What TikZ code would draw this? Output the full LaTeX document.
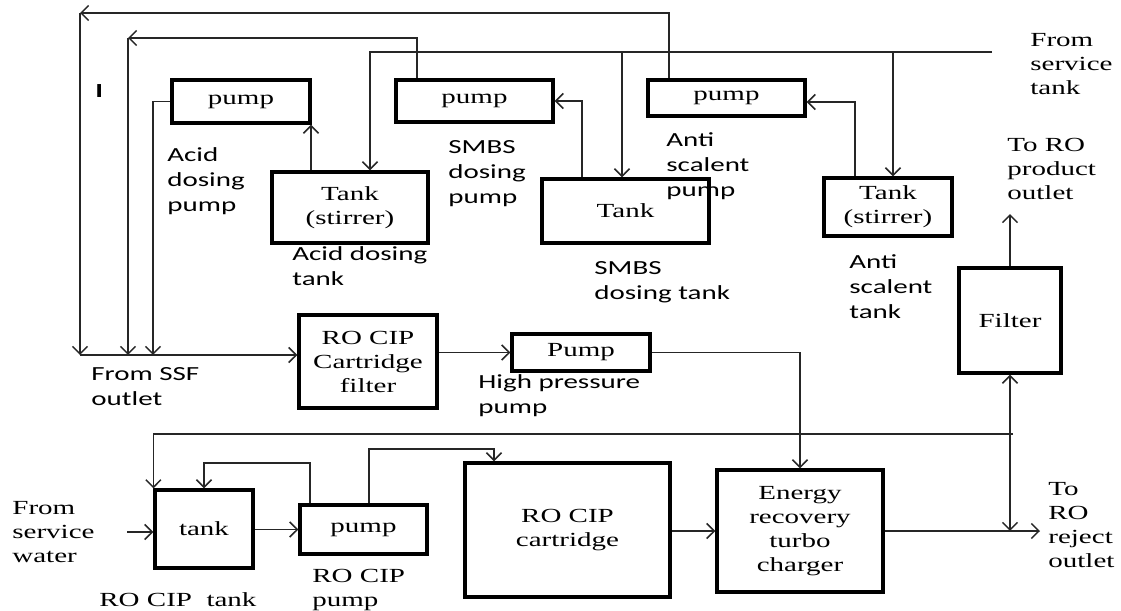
\documentclass[tikz,border=0pt]{standalone}
\usepackage{fontspec}
\setmainfont[FakeStretch=1.45]{Liberation Serif}
\newfontfamily\calfont[FakeStretch=1.45]{Carlito}
\usetikzlibrary{arrows.meta}

\begin{document}
\begin{tikzpicture}[
    x=0.5pt, y=-0.5pt,
    font=\fontsize{10}{12}\selectfont,
    every node/.style={align=center},
    %% plant unit: tank, pump, filter
    unit/.style={draw, line width=1.6pt, inner sep=1pt},
    %% plain pipe
    pipe/.style={line width=0.75pt, draw=black!85},
    %% pipe with open head
    flow/.style={pipe, -{Straight Barb[length=3.8pt, width=7.5pt]}},
    %% pipe with a head at both ends
    both/.style={pipe, {Straight Barb[length=3.8pt, width=7.5pt]}-{Straight Barb[length=3.8pt, width=7.5pt]}},
    %% sans caption under / beside a unit
    lbl/.style={font=\calfont\fontsize{10}{12.5}\selectfont, align=left, anchor=north west, inner sep=0pt},
    %% serif caption
    tag/.style={font=\fontsize{10}{12}\selectfont, align=left, anchor=north west, inner sep=0pt}
]
\useasboundingbox (0,0) rectangle (1121,611);

%%-------------------------------------------------------------- dosing units
\node[unit, minimum width=69pt,   minimum height=21.5pt] (acidpump)   at (241,101.5)   {pump};
\node[unit, minimum width=78.5pt, minimum height=21pt]   (smbspump)   at (474.5,101)   {pump};
\node[unit, minimum width=78.5pt, minimum height=18pt]   (antipump)   at (726.5,98)    {pump};

\node[unit, minimum width=78pt,   minimum height=35.5pt] (acidtank)   at (350,207.5)   {Tank\\(stirrer)};
\node[unit, minimum width=83.5pt, minimum height=32pt]   (smbstank)   at (625.5,211)   {Tank};
\node[unit, minimum width=64pt,   minimum height=29pt]   (antitank)   at (888,207)     {Tank\\(stirrer)};

%%-------------------------------------------------------------- RO line
\node[unit, minimum width=69pt,   minimum height=46.5pt] (cartfilter) at (368,361.5)   {RO CIP\\Cartridge\\filter};
\node[unit, minimum width=69pt,   minimum height=18.5pt] (hppump)     at (581,352.5)   {Pump};
\node[unit, minimum width=51pt,   minimum height=52.5pt] (rofilter)   at (1010,320.5)  {Filter};

%%-------------------------------------------------------------- CIP loop
\node[unit, minimum width=49pt,   minimum height=39pt]   (ciptank)    at (204,529)     {tank};
\node[unit, minimum width=63.5pt, minimum height=24.5pt] (cippump)    at (363.5,529.5) {pump};
\node[unit, minimum width=102.5pt,minimum height=67pt]   (cartridge)  at (567.5,530)   {RO CIP\\cartridge};
\node[unit, minimum width=83pt,   minimum height=61pt]   (ert)        at (800,531)     {Energy\\recovery\\turbo\\charger};

%%-------------------------------------------------------------- captions
\node[lbl] (stray)    at (95,84)    {\bfseries I};
\node[lbl] (acidplbl) at (167,147)  {Acid\\dosing\\pump};
\node[lbl] (acidtlbl) at (292,246)  {Acid dosing\\tank};
\node[lbl] (smbsplbl) at (448,140)  {SMBS\\dosing\\pump};
\node[lbl] (smbstlbl) at (594,261)  {SMBS\\dosing tank};
\node[lbl] (antiplbl) at (666,132)  {Anti\\scalent\\pump};
\node[lbl] (antitlbl) at (849,254)  {Anti\\scalent\\tank};
\node[lbl] (ssflbl)   at (91,367)   {From SSF\\outlet};
\node[lbl] (hplbl)    at (478,374)  {High pressure\\pump};

\node[tag] (svclbl)   at (1030,33)  {From\\service\\tank};
\node[tag] (prodlbl)  at (1007,138) {To RO\\product\\outlet};
\node[tag] (rejlbl)   at (1048,482) {To\\RO\\reject\\outlet};
\node[tag] (swlbl)    at (12,501)   {From\\service\\water};
\node[tag] (ctanklbl) at (99,592)   {RO CIP\ \ tank};
\node[tag] (cpumplbl) at (312,569)  {RO CIP\\pump};

%%-------------------------------------------------------------- junctions
\coordinate (r3)  at (669,13);
\coordinate (jA)  at (80,13);
\coordinate (c1)  at (80,355);
\coordinate (r2)  at (417,38);
\coordinate (jB)  at (128,38);
\coordinate (c2)  at (128,355);
\coordinate (c3)  at (153,355);
\coordinate (svc) at (992,52);
\coordinate (s1)  at (370,52);
\coordinate (s2)  at (622,52);
\coordinate (s3)  at (893,52);
\coordinate (t1)  at (311,0);
\coordinate (t2)  at (582,102);
\coordinate (t3)  at (855,102);
\coordinate (prod) at (1010,214);
\coordinate (jr)  at (1010,531);
\coordinate (rej) at (1040,531);
\coordinate (rc)  at (1013,434);
\coordinate (sw)  at (127,532);
\coordinate (lp)  at (310,463);
\coordinate (lc)  at (369,449);
\coordinate (lc2) at (494,449);

%%-------------------------------------------------------------- edges
% dosing pumps feed back into the SSF outlet line
\draw[flow] (antipump.north -| r3) |- (jA);
\draw[flow] (jA) -- (c1);
\draw[flow] (smbspump.north -| r2) |- (jB);
\draw[flow] (jB) -- (c2);
\draw[flow] (acidpump.west) -| (c3);

% service tank header to the three dosing tanks
\draw[flow] (svc) -- (s1) -- (s1 |- acidtank.north);
\draw[flow] (s2) -- (s2 |- smbstank.north);
\draw[flow] (s3) -- (s3 |- antitank.north);

% tanks to their pumps
\draw[flow] (acidtank.north -| t1) -- (acidpump.south -| t1);
\draw[flow] (smbstank.north -| t2) |- (smbspump.east);
\draw[flow] (antitank.north -| t3) |- (antipump.east |- t3);

% main RO line
\draw[flow] (c1) -- (cartfilter.west |- c1);
\draw[flow] (cartfilter.east |- hppump.west) -- (hppump.west);
\draw[flow] (hppump.east) -| (ert.north);
\draw[flow] (ert.east |- jr) -- (rej);
\draw[both] (jr) -- (rofilter.south);
\draw[flow] (rofilter.north) -- (prod);

% CIP loop
\draw[flow] (rc) -| (ciptank.north west);
\draw[flow] (sw) -- (ciptank.west |- sw);
\draw[flow] (ciptank.east |- cippump.west) -- (cippump.west);
\draw[flow] (cippump.north -| lp) |- (ciptank.north |- lp) -- (ciptank.north);
\draw[flow] (cippump.north -| lc) |- (lc2) -- (lc2 |- cartridge.north);
\draw[flow] (cartridge.east |- ert.west) -- (ert.west);

\end{tikzpicture}
\end{document}
